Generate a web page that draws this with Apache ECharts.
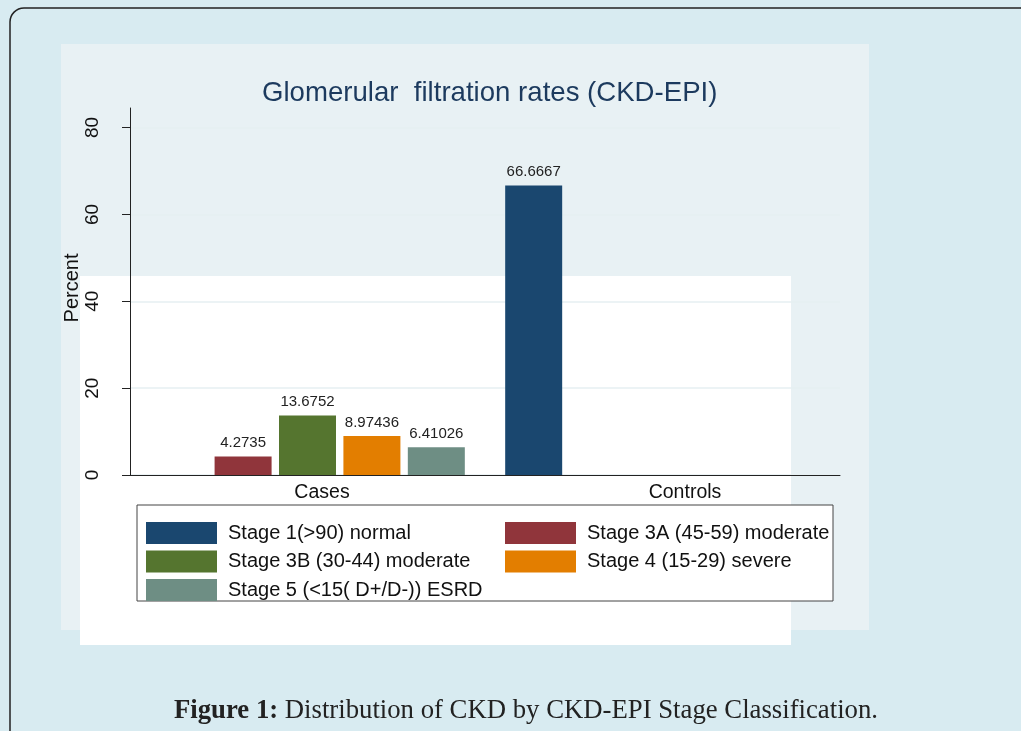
<!DOCTYPE html>
<html><head><meta charset="utf-8">
<script src="https://cdn.jsdelivr.net/npm/echarts@6/dist/echarts.min.js"></script>
<style>html,body{margin:0;padding:0;background:#d8ebf1;}#c{width:1021px;height:731px;}</style>
</head><body><div id="c"></div>
<script>
const categories = ['Cases', 'Controls'];
const seriesNames = ['Stage 1(>90) normal', 'Stage 3A (45-59) moderate', 'Stage 3B (30-44) moderate', 'Stage 4 (15-29) severe', 'Stage 5 (<15( D+/D-)) ESRD'];
const stage1 = [0, 66.6667];
const stage3A = [4.2735, 0];
const stage3B = [13.6752, 0];
const stage4 = [8.97436, 0];
const stage5 = [6.41026, 0];
const colors = ['#1a476f', '#90353b', '#55752f', '#e37e00', '#6e8e84'];
const yTicks = [0, 20, 40, 60, 80];

const allData = [stage1, stage3A, stage3B, stage4, stage5];
const chart = echarts.init(document.getElementById('c'));
const labelFont = 'Liberation Sans, Arial, sans-serif';

chart.setOption({
  backgroundColor: '#d8ebf1',
  animation: false,
  graphic: [
    {type: 'rect', z: -10, shape: {x: 10, y: 8, width: 1100, height: 800, r: 14}, style: {fill: '#d8ebf1', stroke: '#222', lineWidth: 1.5}},
    {type: 'rect', z: -9, shape: {x: 61, y: 44, width: 808, height: 586}, style: {fill: '#e8f1f4'}},
    {type: 'rect', z: -8, shape: {x: 80, y: 276, width: 711, height: 369}, style: {fill: '#ffffff'}},
    {type: 'rect', z: -7, shape: {x: 137, y: 505, width: 696, height: 96}, style: {fill: '#ffffff', stroke: '#444', lineWidth: 1}},
    {type: 'text', x: 174, y: 711, scaleX: 0.99, style: {
      text: '{b|Figure 1:}  {n|Distribution of CKD by CKD-EPI Stage Classification.}',
      verticalAlign: 'middle',
      rich: {
        b: {fontFamily: 'Liberation Serif, serif', fontSize: 27, fontWeight: 'bold', fill: '#222'},
        n: {fontFamily: 'Liberation Serif, serif', fontSize: 27, fill: '#222'}
      }
    }}
  ],
  title: {
    text: 'Glomerular  filtration rates (CKD-EPI)',
    left: 257, top: 74,
    textStyle: {fontFamily: labelFont, fontSize: 27.6, fontWeight: 'normal', color: '#1c3a5e'}
  },
  legend: [
    {data: [seriesNames[0], seriesNames[2], seriesNames[4]], orient: 'vertical', left: 146, top: 522, padding: 0,
     itemWidth: 71, itemHeight: 22, itemGap: 6.5, icon: 'rect', selectedMode: false,
     textStyle: {fontFamily: labelFont, fontSize: 20, color: '#111', padding: [0, 0, 0, 6]}},
    {data: [seriesNames[1], seriesNames[3]], orient: 'vertical', left: 505, top: 522, padding: 0,
     itemWidth: 71, itemHeight: 22, itemGap: 6.5, icon: 'rect', selectedMode: false,
     textStyle: {fontFamily: labelFont, fontSize: 20, color: '#111', padding: [0, 0, 0, 6]}}
  ],
  grid: {left: 130, right: 181, top: 108, bottom: 256, containLabel: false},
  xAxis: {
    type: 'category', data: categories,
    axisLine: {lineStyle: {color: '#222', width: 1}},
    axisTick: {show: false},
    axisLabel: {
      margin: 8, color: '#111', fontFamily: labelFont, fontSize: 19.5,
      formatter: v => v === 'Cases' ? '{a|' + v + '}' : '{b|' + v + '}',
      rich: {
        a: {fontFamily: labelFont, fontSize: 19.5, color: '#111', padding: [0, 0, 0, 29]},
        b: {fontFamily: labelFont, fontSize: 19.5, color: '#111', padding: [0, 0, 0, 45]}
      }
    }
  },
  yAxis: {
    type: 'value', min: 0, max: 84.5,
    name: 'Percent', nameLocation: 'middle', nameGap: 48, nameMoveOverlap: false,
    nameTextStyle: {fontFamily: labelFont, fontSize: 20, color: '#111', padding: [0, 0, 0, 7]},
    axisLine: {show: true, lineStyle: {color: '#222', width: 1}},
    axisTick: {show: true, length: 8, customValues: yTicks, lineStyle: {color: '#222'}},
    axisLabel: {customValues: yTicks, rotate: 90, margin: 28, fontFamily: labelFont, fontSize: 19, color: '#111'},
    splitLine: {show: true, lineStyle: {color: '#e6eff2', width: 1.5}}
  },
  series: seriesNames.map((n, i) => ({
    name: n, type: 'bar', data: allData[i],
    barWidth: 57, barGap: '13%',
    itemStyle: {color: colors[i]},
    label: {show: true, position: 'top', distance: 6, fontFamily: labelFont, fontSize: 15, color: '#222',
      formatter: p => p.value ? String(p.value) : ''}
  }))
});
</script></body></html>
